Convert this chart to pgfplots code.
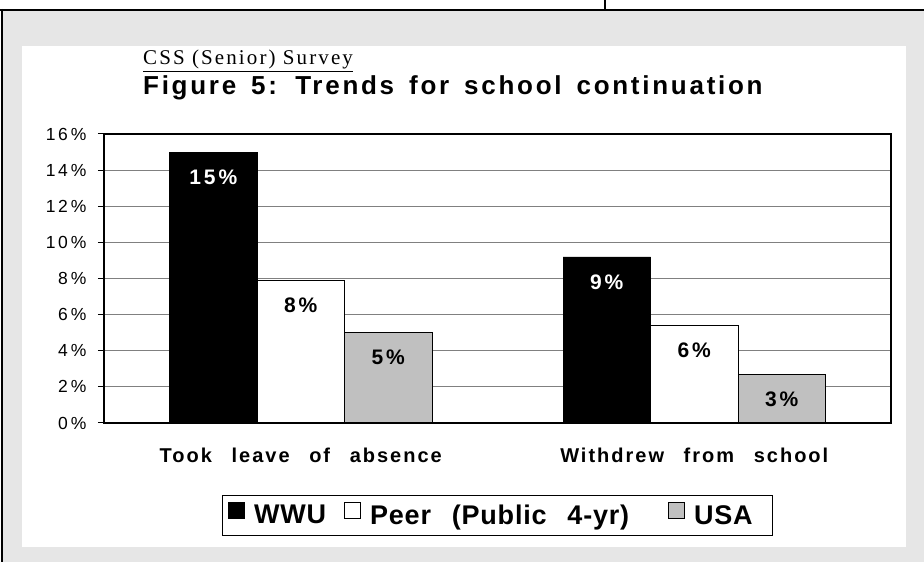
\documentclass[border=0pt]{standalone}
\usepackage{fontspec}
\usepackage{pgfplots}
\pgfplotsset{compat=1.18}
\setmainfont{Liberation Sans}
\newfontfamily\tickfont[LetterSpace=14]{Liberation Sans}
\newfontfamily\titlefont[LetterSpace=10.5,WordSpace=1.5]{Liberation Sans}
\newfontfamily\catfont[LetterSpace=10,WordSpace=2.6]{Liberation Sans}
\newfontfamily\legfont[LetterSpace=3,WordSpace=2.5]{Liberation Sans}
\newfontfamily\cssfont[LetterSpace=10]{Liberation Serif}
\definecolor{bggrey}{HTML}{E6E6E6}
\definecolor{usagrey}{HTML}{C0C0C0}
\definecolor{gridgrey}{HTML}{808080}
\begin{document}
\begin{tikzpicture}
\useasboundingbox (0pt,0pt) rectangle (924pt,562pt);
\fill[white] (0pt,0pt) rectangle (924pt,562pt);
\fill[bggrey] (3pt,0pt) rectangle (924pt,551pt);
\fill[white] (22pt,15pt) rectangle (906pt,516pt);
\draw[line width=2pt] (0pt,552pt) -- (924pt,552pt);
\draw[line width=2pt] (605pt,562pt) -- (605pt,552pt);
\draw[line width=2pt] (2pt,553pt) -- (2pt,0pt);
\node[anchor=base west, inner sep=0] at (143pt,497pt) {\fontsize{21}{24}\cssfont\underline{CSS (Senior) Survey}};
\node[anchor=base west, inner sep=0] at (143pt,467pt) {\fontsize{26}{30}\titlefont\bfseries Figure 5: Trends for school continuation};
\begin{axis}[
  at={(104pt,139pt)}, anchor=south west,
  scale only axis, width=787pt, height=289pt,
  ybar=0pt, bar width=87.5pt,
  xmin=-0.5, xmax=1.5, ymin=0, ymax=16,
  xtick={0,1},
  xticklabels={Took leave of absence, Withdrew from school},
  x tick label style={font=\catfont\bfseries\fontsize{20}{24}\selectfont, anchor=base, yshift=-33pt},
  major x tick style={draw=none},
  extra x ticks={-0.5,0.5,1.5},
  extra x tick labels={},
  extra x tick style={grid=none, major tick length=7pt, tick style={draw=black, line width=1pt}},
  ytick={0,2,...,16},
  ytick pos=left, xtick pos=bottom,
  tick align=outside,
  major tick length=6pt,
  y tick style={draw=black, line width=1pt},
  ymajorgrids, grid style={gridgrey, line width=1pt},
  axis line style={line width=2.5pt},
  /pgf/number format/assume math mode=true,
  yticklabel={\pgfmathprintnumber{\tick}\hspace{3pt}\%},
  y tick label style={font=\tickfont\fontsize{17.5}{20}\selectfont, xshift=-8pt},
  point meta=explicit symbolic,
  nodes near coords,
  every node near coord/.append style={anchor=center, yshift=-25pt, font=\tickfont\bfseries\fontsize{21}{24}\selectfont},
  legend columns=3,
  legend style={at={(0.5,-0.2491)}, anchor=north, draw=black, line width=0.8pt,
    font=\legfont\bfseries\fontsize{27}{30}\selectfont,
    inner xsep=6pt, inner ysep=6.5pt,
    nodes={inner xsep=2pt, inner ysep=3pt},
    /tikz/every odd column/.append style={column sep=7pt},
    /tikz/every even column/.append style={column sep=16pt}},
  legend image code/.code={\draw[#1, line width=0.8pt] (0pt,-3pt) rectangle (16pt,13pt);},
]
\addplot[fill=black, draw=black, every node near coord/.append style={text=white}] coordinates {(0,15) [15\hspace{3pt}\%] (1,9.2) [9\hspace{3pt}\%]};
\addplot[fill=white, draw=black, line width=1pt] coordinates {(0,7.9) [8\hspace{3pt}\%] (1,5.4) [6\hspace{3pt}\%]};
\addplot[fill=usagrey, draw=black, line width=1pt] coordinates {(0,5.0) [5\hspace{3pt}\%] (1,2.7) [3\hspace{3pt}\%]};
\legend{WWU, Peer (Public 4-yr)\kern21pt\null, USA\kern12pt\null}
\end{axis}
\end{tikzpicture}
\end{document}
